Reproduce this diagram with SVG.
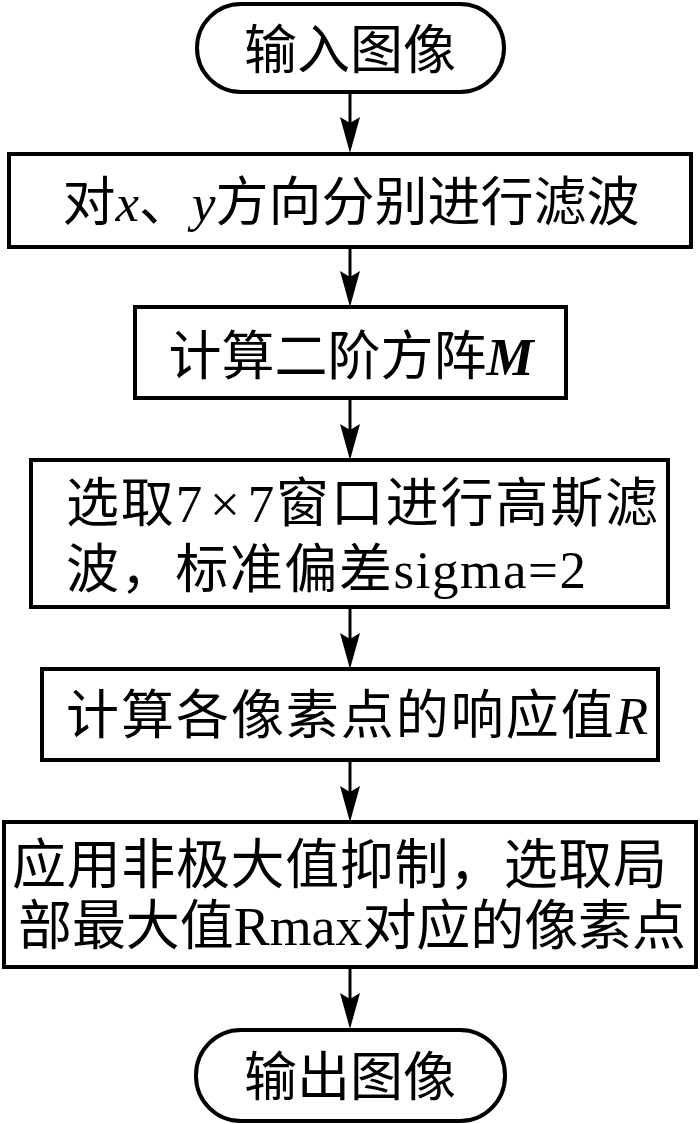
<svg xmlns="http://www.w3.org/2000/svg" width="700" height="1124" viewBox="0 0 700 1124">
  <style>
    .node { fill: #ffffff; stroke: #000000; stroke-width: 4; }
    .conn { fill: none; stroke: #000000; stroke-width: 3; }
    text { font-family: "Liberation Serif", "Noto Sans CJK SC", serif; font-size: 53px; fill: #000000; }
    .mid { text-anchor: middle; }
    .it { font-style: italic; }
    .bi { font-style: italic; font-weight: bold; }
  </style>
  <defs>
    <marker id="arrow" markerUnits="userSpaceOnUse" viewBox="-7 -11 38 22" markerWidth="38" markerHeight="22" refX="0" refY="0" orient="auto">
      <path d="M30,0 L-6,-10 L0,0 L-6,10 Z" fill="#000000"/>
    </marker>
  </defs>
  <rect width="700" height="1124" fill="#ffffff"/>

  <g id="connectors">
    <path class="conn" d="M350,92 L350,123" marker-end="url(#arrow)"/>
    <path class="conn" d="M350,247 L350,277" marker-end="url(#arrow)"/>
    <path class="conn" d="M350,398 L350,430" marker-end="url(#arrow)"/>
    <path class="conn" d="M350,607 L350,639" marker-end="url(#arrow)"/>
    <path class="conn" d="M350,760 L350,792" marker-end="url(#arrow)"/>
    <path class="conn" d="M350,967 L350,999" marker-end="url(#arrow)"/>
  </g>

  <g id="start">
    <rect class="node" x="197" y="4" width="307" height="88" rx="44" ry="44"/>
    <text class="mid" x="350" y="69">输入图像</text>
  </g>

  <g id="filter-xy">
    <rect class="node" x="9" y="154" width="682" height="93"/>
    <text class="mid" x="351" y="221">对<tspan class="it">x</tspan>、<tspan class="it">y</tspan>方向分别进行滤波</text>
  </g>

  <g id="matrix-m">
    <rect class="node" x="135" y="307" width="431" height="91"/>
    <text class="mid" x="351" y="375">计算二阶方阵<tspan class="bi">M</tspan></text>
  </g>

  <g id="gauss">
    <rect class="node" x="31" y="460" width="637" height="147"/>
    <text x="66" y="522" textLength="592" lengthAdjust="spacing">选取7<tspan dx="6">×</tspan><tspan dx="6">7</tspan>窗口进行高斯滤</text>
    <text x="66" y="588" textLength="520" lengthAdjust="spacing">波，标准偏差sigma=2</text>
  </g>

  <g id="response">
    <rect class="node" x="42" y="669" width="616" height="91"/>
    <text class="mid" x="357" y="734" textLength="582" lengthAdjust="spacing">计算各像素点的响应值<tspan class="it">R</tspan></text>
  </g>

  <g id="nms">
    <rect class="node" x="4" y="822" width="692" height="145"/>
    <text x="12" y="884" style="font-size:54px" textLength="655" lengthAdjust="spacing">应用非极大值抑制，选取局</text>
    <text x="18" y="945" style="font-size:54px" textLength="668" lengthAdjust="spacing">部最大值Rmax对应的像素点</text>
  </g>

  <g id="end">
    <rect class="node" x="196" y="1030" width="309" height="91" rx="45" ry="45"/>
    <text class="mid" x="350" y="1096">输出图像</text>
  </g>
</svg>
